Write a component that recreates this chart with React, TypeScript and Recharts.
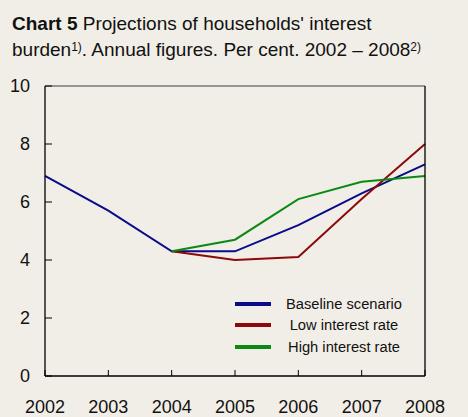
import React from 'react';
import { LineChart, Line, XAxis, YAxis, ReferenceLine } from 'recharts';

const years = [2002, 2003, 2004, 2005, 2006, 2007, 2008];
const baseline = [6.9, 5.7, 4.3, 4.3, 5.2, 6.3, 7.3];
const lowRate = [null, null, 4.3, 4.0, 4.1, 6.1, 8.0];
const highRate = [null, null, 4.3, 4.7, 6.1, 6.7, 6.9];
const yTicks = [0, 2, 4, 6, 8, 10];

const seriesNames = ['Baseline scenario', 'Low interest rate', 'High interest rate'];
const seriesColors = ['#0a0a8a', '#8c0a0a', '#0a8a14'];

const data = years.map((year, i) => ({
  year,
  baseline: baseline[i],
  low: lowRate[i],
  high: highRate[i],
}));

const FONT = '"Liberation Sans", Arial, sans-serif';
const BG = '#f1eee7';

// inward ticks: line goes into plot, label stays outside
const LeftTick = (props: any) => {
  const { x, y, payload } = props;
  return (
    <g>
      <line x1={x} x2={x + 7} y1={y} y2={y} stroke="#000" />
      <text x={x - 15} y={y} dy="0.35em" textAnchor="end" fontSize={18} fill="#111" fontFamily={FONT}>
        {payload.value}
      </text>
    </g>
  );
};

const RightTick = (props: any) => {
  const { x, y, payload } = props;
  return (
    <g>
      <line x1={x - 7} x2={x} y1={y} y2={y} stroke="#000" />
      <text x={x + 18} y={y} dy="0.35em" textAnchor="start" fontSize={18} fill="#111" fontFamily={FONT}>
        {payload.value}
      </text>
    </g>
  );
};

const BottomTick = (props: any) => {
  const { x, y, payload } = props;
  return (
    <g>
      <line x1={x} x2={x} y1={y - 6} y2={y} stroke="#000" />
      <text x={x} y={y + 31} dy="0.35em" textAnchor="middle" fontSize={18} fill="#111" fontFamily={FONT}>
        {payload.value}
      </text>
    </g>
  );
};

const LegendBox = () => (
  <div style={{ position: 'absolute', left: 235, top: 293, fontFamily: FONT, fontSize: 14.7, color: '#111' }}>
    {seriesNames.map((name, i) => (
      <div key={name} style={{ display: 'flex', alignItems: 'center', height: 21.5 }}>
        <div style={{ width: 36, height: 4, background: seriesColors[i], marginRight: 14 }} />
        <div style={{ width: 118, textAlign: 'center', whiteSpace: 'nowrap' }}>{name}</div>
      </div>
    ))}
  </div>
);

export default function App() {
  return (
    <div style={{ position: 'absolute', left: 0, top: 0, width: 468, height: 417, background: BG, overflow: 'hidden' }}>
      <div style={{ position: 'absolute', left: 12, top: 11, fontFamily: FONT, fontSize: 19, lineHeight: '26px', color: '#111', whiteSpace: 'nowrap' }}>
        <div><b>Chart 5</b> Projections of households' interest</div>
        <div>
          burden<span style={{ fontSize: 12, position: 'relative', top: -5 }}>1)</span>. Annual figures. Per cent. 2002 – 2008
          <span style={{ fontSize: 12, position: 'relative', top: -5 }}>2)</span>
        </div>
      </div>
      <LineChart width={468} height={417} data={data} margin={{ top: 86, right: 0, left: 0, bottom: 0 }}>
        <XAxis
          dataKey="year"
          type="number"
          domain={[2002, 2008]}
          ticks={years}
          height={41}
          tickSize={0}
          tickMargin={0}
          tickLine={false}
          axisLine={{ stroke: '#000', strokeWidth: 1.3 }}
          tick={<BottomTick />}
          interval={0}
        />
        <YAxis
          yAxisId="left"
          orientation="left"
          domain={[0, 10]}
          ticks={yTicks}
          width={45}
          tickSize={0}
          tickMargin={0}
          tickLine={false}
          axisLine={{ stroke: '#000', strokeWidth: 1.3 }}
          tick={<LeftTick />}
          interval={0}
        />
        <YAxis
          yAxisId="right"
          orientation="right"
          domain={[0, 10]}
          ticks={yTicks}
          width={43}
          tickSize={0}
          tickMargin={0}
          tickLine={false}
          axisLine={{ stroke: '#000', strokeWidth: 1.3 }}
          tick={<RightTick />}
          interval={0}
        />
        <ReferenceLine yAxisId="left" y={10} stroke="#777" strokeWidth={1.3} />
        <Line yAxisId="left" dataKey="baseline" stroke={seriesColors[0]} strokeWidth={2} dot={false} isAnimationActive={false} />
        <Line yAxisId="left" dataKey="low" stroke={seriesColors[1]} strokeWidth={2} dot={false} isAnimationActive={false} />
        <Line yAxisId="left" dataKey="high" stroke={seriesColors[2]} strokeWidth={2} dot={false} isAnimationActive={false} />
      </LineChart>
      <LegendBox />
    </div>
  );
}
